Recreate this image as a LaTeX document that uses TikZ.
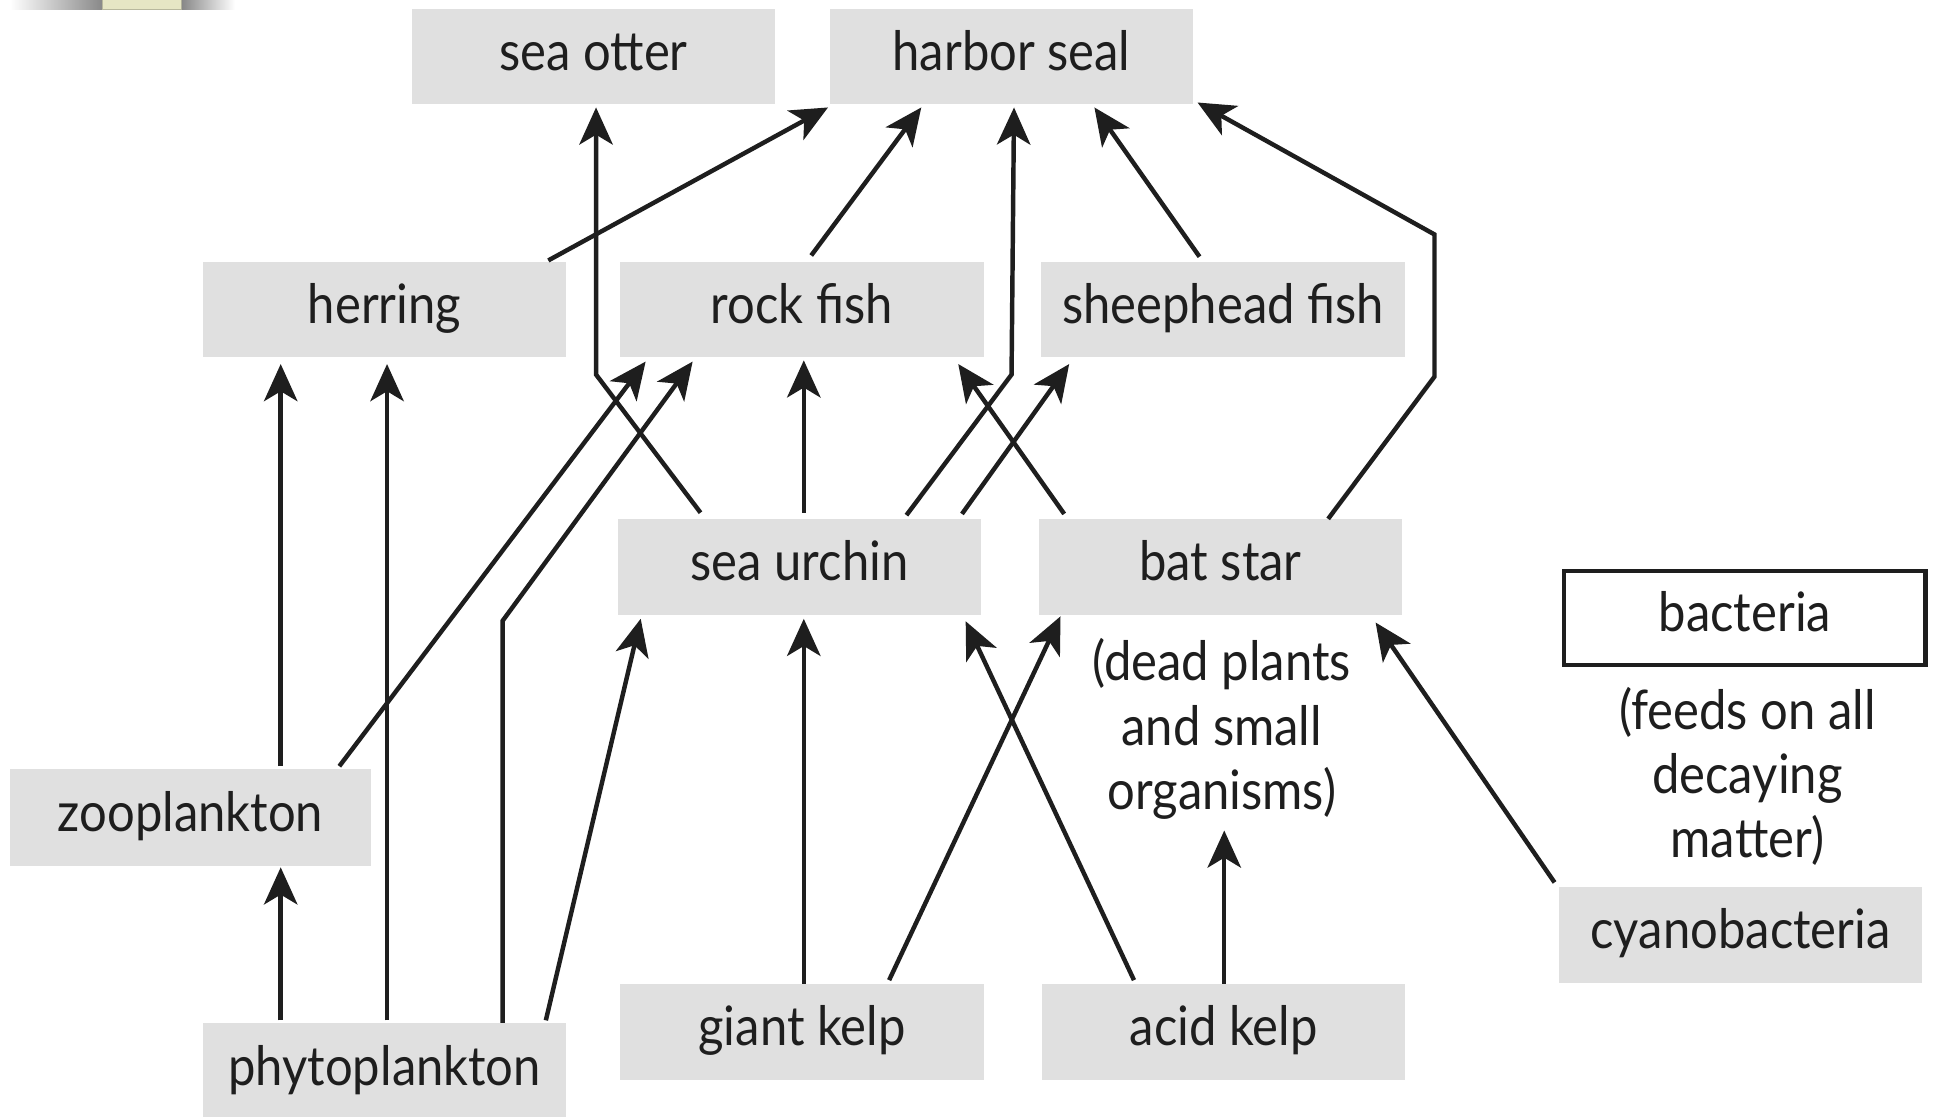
\documentclass[tikz,border=0pt]{standalone}
\usepackage{fontspec}
\setmainfont{Lato}[FakeStretch=0.9]
\usetikzlibrary{arrows.meta,calc}
\definecolor{boxgray}{RGB}{224,224,224}
\definecolor{ink}{RGB}{30,30,30}
\definecolor{beige}{RGB}{230,230,196}
\definecolor{artgray}{RGB}{136,136,136}
\begin{document}
\begin{tikzpicture}[x=0.5pt,y=-0.5pt,
  every node/.style={font=\fontsize{22pt}{26pt}\selectfont, text=ink},
  box/.style={fill=boxgray, minimum width=147pt, minimum height=38.5pt, inner sep=0pt, text height=16pt, text depth=5pt},
  bbox/.style={draw=ink, line width=1.7pt, fill=white, minimum width=146pt, minimum height=38pt, inner sep=0pt, text height=16pt, text depth=5pt},
  note/.style={align=center, inner sep=0pt},
  arr/.style={draw=ink, line width=1.8pt, -{Stealth[length=15pt,width=13.5pt,inset=4pt]}},
]
\useasboundingbox (0,0) rectangle (1568,903);
\fill[white] (0,0) rectangle (1568,903);
% top-left artifact
\shade[left color=white, right color=artgray] (8,0) rectangle (83,7.3);
\fill[beige] (83,0) rectangle (147,7.3);
\draw[beige!80!black, line width=0.3pt] (83,0) -- (83,7.3) -- (147,7.3) -- (147,0);
\shade[left color=artgray, right color=white] (147,0) rectangle (190,7.3);

% nodes
\node[box] (otter) at (480,46) {sea otter};
\node[box] (seal) at (818,46) {harbor seal};
\node[box] (herring) at (311,250.5) {herring};
\node[box] (rock) at (648.5,250.5) {rock fish};
\node[box] (sheep) at (989,250.5) {sheephead fish};
\node[box] (urchin) at (646.5,458.5) {sea urchin};
\node[box] (bat) at (987,458.5) {bat star};
\node[bbox] (bact) at (1411,499.5) {bacteria};
\node[box, minimum width=146pt, minimum height=39pt] (zoo) at (154,661) {zooplankton};
\node[box, minimum height=39pt] (phyto) at (311,866.5) {phytoplankton};
\node[box] (giant) at (648.5,834.5) {giant kelp};
\node[box] (acid) at (989.5,834.5) {acid kelp};
\node[box, minimum height=39pt] (cyano) at (1407.5,756) {cyanobacteria};
\node[note, anchor=north] (dead) at (988,516) {(dead plants\\and small\\organisms)};
\node[note, anchor=north] (feeds) at (1413,555) {(feeds on all\\decaying\\matter)};

% connectors
\draw[arr] ($(urchin.north)+(-80,-5)$) -- ($(otter.south)+(2,218)$) -- ($(otter.south)+(2,2)$);
\draw[arr] ($(herring.north east)+(-15,-1)$) -- ($(seal.south west)+(-1,2)$);
\draw[arr] ($(rock.north)+(7.5,-5)$) -- ($(seal.south)+(-73,2)$);
\draw[arr] ($(urchin.north)+(86.5,-3)$) -- ($(seal.south)+(0,218)$) -- ($(seal.south)+(2,2)$);
\draw[arr] ($(sheep.north)+(-19,-4)$) -- ($(seal.south)+(67,2)$);
\draw[arr] ($(bat.north)+(87,0)$) -- ($(bat.north)+(173,-115)$) -- ($(bat.north)+(173,-230)$) -- ($(seal.south east)+(3,-2)$);
\draw[arr] ($(zoo.north)+(73,-2)$) -- ($(herring.south)+(-84,5)$);
\draw[arr] ($(phyto.north)+(2,-2)$) -- ($(herring.south)+(2,5)$);
\draw[arr] ($(zoo.north east)+(-26,-2)$) -- ($(rock.south west)+(21,3)$);
\draw[arr] ($(phyto.north east)+(-52,0)$) -- ($(phyto.north east)+(-52,-325)$) -- ($(rock.south west)+(59,3)$);
\draw[arr] ($(urchin.north)+(3.5,-5)$) -- ($(rock.south)+(1.5,2)$);
\draw[arr] ($(bat.north west)+(21,-4)$) -- ($(rock.south east)+(-21,5)$);
\draw[arr] ($(urchin.north east)+(-16,-4)$) -- ($(sheep.south west)+(23,5)$);
\draw[arr] ($(phyto.north)+(-84,-2)$) -- ($(zoo.south)+(73,1)$);
\draw[arr] ($(phyto.north east)+(-17,-2)$) -- ($(urchin.south west)+(19,3)$);
\draw[arr] ($(giant.north)+(1.5,0)$) -- ($(urchin.south)+(3.5,3)$);
\draw[arr] ($(acid.north)+(-72.5,-3)$) -- ($(urchin.south east)+(-13,5)$);
\draw[arr] ($(giant.north)+(70.5,-3)$) -- ($(bat.south west)+(18,1)$);
\draw[arr] ($(acid.north)+(0.5,0)$) -- ($(acid.north)+(0.5,-124)$);
\draw[arr] ($(cyano.north west)+(-3,-3)$) -- ($(bat.south east)+(-22,6)$);
\end{tikzpicture}
\end{document}
